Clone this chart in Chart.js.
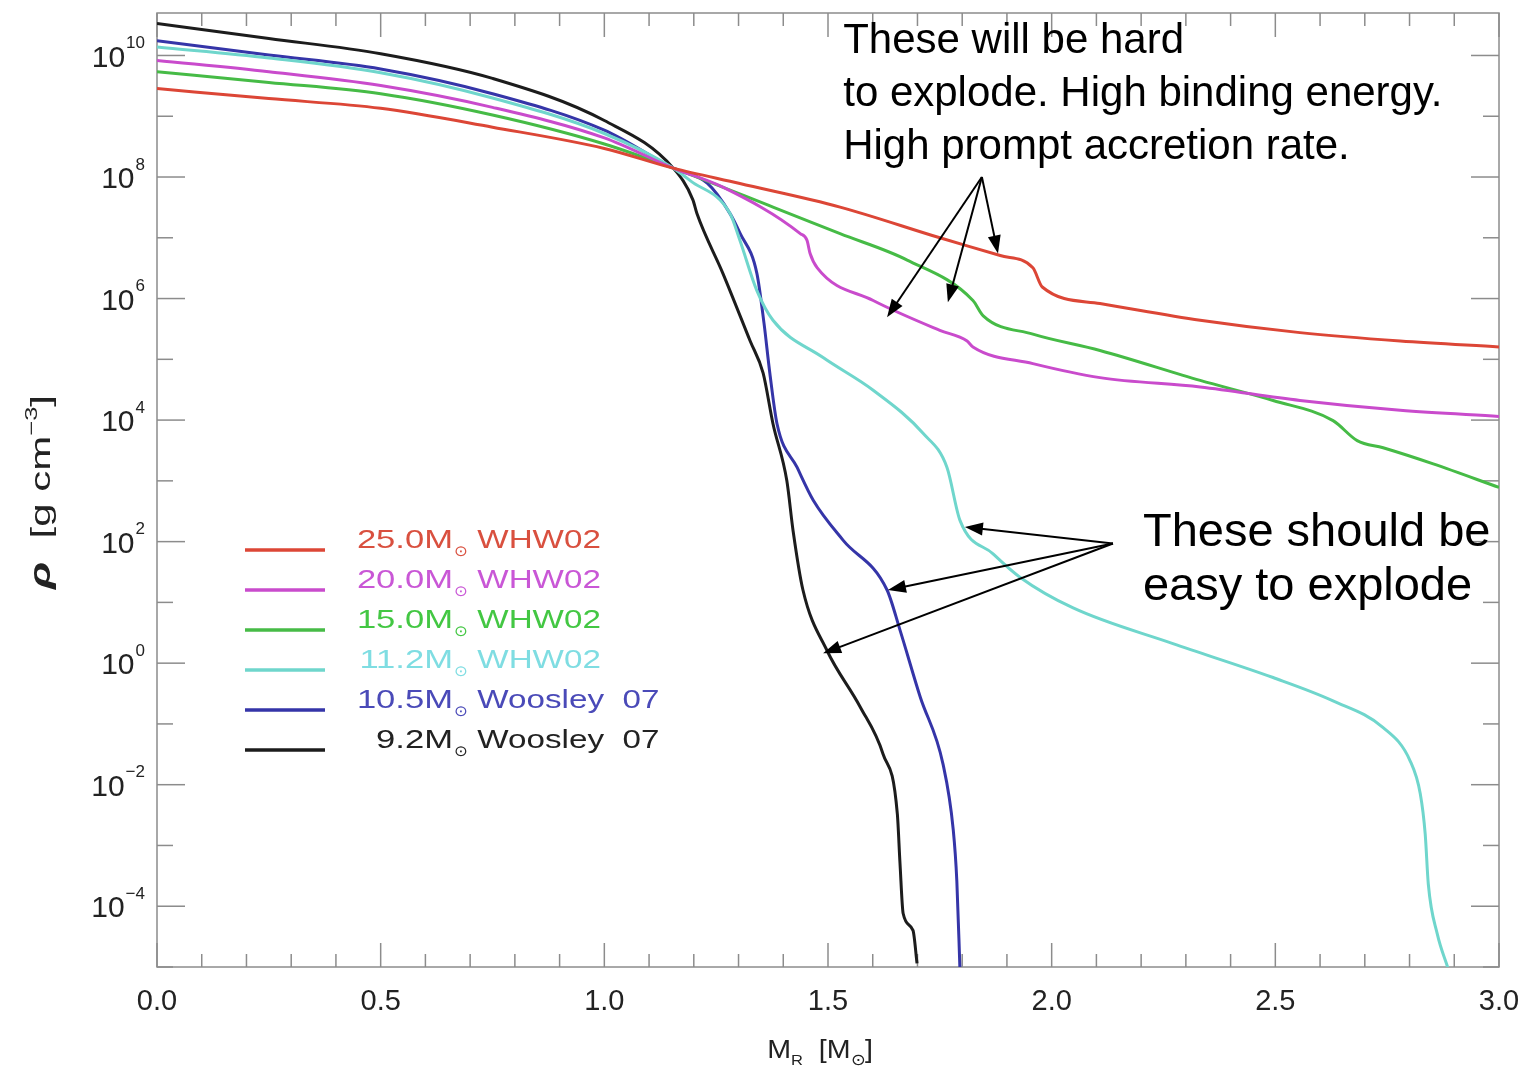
<!DOCTYPE html>
<html>
<head>
<meta charset="utf-8">
<script src="https://cdn.jsdelivr.net/npm/chart.js@4.4.0/dist/chart.umd.min.js"></script>
<style>
  html, body { margin: 0; padding: 0; background: #fff; }
  #wrap { width: 1530px; height: 1069px; }
</style>
</head>
<body>
<div id="wrap"><canvas id="rhoChart"></canvas></div>
<script>
// enclosed mass M_R [M_sun] and density rho [g cm^-3]
let m25 = [0, 0.25, 0.5, 0.75, 1.0, 1.154, 1.303, 1.527, 1.750, 1.885, 1.958, 1.979, 2.108, 2.332, 2.555, 2.779, 3.0];
let rho25 = [2.85e9, 1.95e9, 1.35e9, 6.6e8, 2.95e8, 1.4e8, 7.8e7, 3.2e7, 1.0e7, 5.1e6, 3.2e6, 1.55e6, 8.3e5, 4.4e5, 2.75e5, 2.0e5, 1.6e5];

let m20 = [0, 0.25, 0.5, 0.75, 1.0, 1.154, 1.265, 1.438, 1.453, 1.460, 1.476, 1.601, 1.750, 1.811, 1.824, 1.958, 2.108, 2.332, 2.555, 2.779, 3.0];
let rho20 = [8.3e9, 5.4e9, 3.2e9, 1.4e9, 4.4e8, 1.4e8, 6.8e7, 1.17e7, 9.1e6, 5.5e6, 3.2e6, 9.3e5, 3.0e5, 2.0e5, 1.6e5, 8.5e4, 5.0e4, 3.5e4, 2.1e4, 1.45e4, 1.15e4];

let m15 = [0, 0.25, 0.5, 0.75, 1.0, 1.154, 1.377, 1.527, 1.677, 1.824, 1.847, 1.958, 2.108, 2.332, 2.495, 2.629, 2.683, 2.741, 2.853, 3.0];
let rho15 = [5.4e9, 3.6e9, 2.35e9, 1.05e9, 3.5e8, 1.4e8, 3.2e7, 1.17e7, 4.3e6, 9.3e5, 5.2e5, 2.6e5, 1.4e5, 4.5e4, 2.1e4, 9.8e3, 4.6e3, 3.5e3, 1.9e3, 780];

let m112 = [0, 0.25, 0.5, 0.75, 1.0, 1.154, 1.192, 1.281, 1.303, 1.341, 1.377, 1.489, 1.601, 1.713, 1.766, 1.795, 1.869, 1.929, 2.048, 2.271, 2.495, 2.629, 2.741, 2.801, 2.824, 2.835, 2.842, 2.862, 2.886];
let rho112 = [1.38e10, 9.1e9, 5.2e9, 2.0e9, 5.2e8, 1.4e8, 8.7e7, 2.5e7, 9.1e6, 1.35e6, 4.4e5, 1.07e5, 3.1e4, 6.0e3, 1.66e3, 224, 63, 26, 8.1, 2.1, 0.58, 0.24, 0.087, 0.025, 7.1e-3, 1.55e-3, 2.3e-4, 3.5e-5, 9.5e-6];

let m105 = [0, 0.25, 0.5, 0.75, 1.0, 1.154, 1.230, 1.281, 1.303, 1.341, 1.357, 1.370, 1.386, 1.431, 1.467, 1.534, 1.632, 1.661, 1.706, 1.757, 1.780, 1.788, 1.795];
let rho105 = [1.74e10, 1.02e10, 6.0e9, 2.35e9, 5.9e8, 1.4e8, 7.9e7, 2.5e7, 1.2e7, 2.6e6, 3.9e5, 5.9e4, 8.7e3, 1.66e3, 480, 105, 16, 3.5, 0.28, 0.022, 1.8e-3, 2.6e-4, 9.0e-6];

let m92 = [0, 0.25, 0.5, 0.75, 1.0, 1.154, 1.198, 1.207, 1.265, 1.326, 1.355, 1.377, 1.408, 1.422, 1.444, 1.498, 1.572, 1.623, 1.655, 1.661, 1.668, 1.690, 1.699];
let rho92 = [3.35e10, 1.9e10, 1.07e10, 4.2e9, 8.5e8, 1.4e8, 4.2e7, 2.5e7, 2.6e6, 2.0e5, 5.9e4, 8.7e3, 1.0e3, 150, 16, 1.6, 0.19, 0.032, 3.3e-3, 5e-4, 7.6e-5, 4e-5, 1.15e-5];

let legendMass = ['25.0', '20.0', '15.0', '11.2', '10.5', '9.2'];
let legendSource = ['WHW02', 'WHW02', 'WHW02', 'WHW02', 'Woosley  07', 'Woosley  07'];
let lineColors = ['#dc4636', '#c94bcc', '#46bb46', '#6fd6cc', '#3535a8', '#1c1c1c'];
let textColors = ['#d9503f', '#c957d6', '#43c743', '#7fdde2', '#4a4ab8', '#222222'];

let xTickLabels = ['0.0', '0.5', '1.0', '1.5', '2.0', '2.5', '3.0'];
let yDecades = [-5, -4, -3, -2, -1, 0, 1, 2, 3, 4, 5, 6, 7, 8, 9, 10];

// annotations (data coordinates, text at its baseline)
let hardText = ['These will be hard', 'to explode. High binding energy.', 'High prompt accretion rate.'];
let hardTextPos = [[1.534, 1.09e10], [1.534, 1.46e9], [1.534, 1.95e8]];
let hardFrom = [1.844, 1.0e8];
let hardTips = [[1.632, 4.9e5], [1.768, 8.7e5], [1.880, 5.5e6]];
let easyText = ['These should be', 'easy to explode'];
let easyTextPos = [[2.204, 84], [2.204, 10.8]];
let easyFrom = [2.137, 93];
let easyTips = [[1.806, 174], [1.634, 16], [1.489, 1.45]];

function pts(xs, ys) {
    let out = [];
    for (let i = 0; i < xs.length; i++) out.push({x: xs[i], y: ys[i]});
    return out;
}

let series = [pts(m25, rho25), pts(m20, rho20), pts(m15, rho15), pts(m112, rho112), pts(m105, rho105), pts(m92, rho92)];

let datasets = [];
for (let i = 0; i < series.length; i++) {
    datasets.push({
        label: legendMass[i] + 'M⊙ ' + legendSource[i],
        data: series[i],
        borderColor: lineColors[i],
        backgroundColor: lineColors[i],
        borderWidth: 3,
        pointRadius: 0,
        showLine: true,
        cubicInterpolationMode: 'monotone'
    });
}

const AXIS_GREY = '#8c8c8c';
const LABEL_COL = '#222222';
const FONT = '"Liberation Sans", Arial, Helvetica, sans-serif';

function seg(ctx, x1, y1, x2, y2) {
    ctx.beginPath();
    ctx.moveTo(x1, y1);
    ctx.lineTo(x2, y2);
    ctx.stroke();
}

// text stretched horizontally (the IDL vector font is wide)
function wideText(ctx, s, x, y, font, sx, align) {
    ctx.save();
    ctx.font = font;
    ctx.textAlign = align || 'left';
    ctx.translate(x, y);
    ctx.scale(sx, 1);
    ctx.fillText(s, 0, 0);
    let w = ctx.measureText(s).width * sx;
    ctx.restore();
    return w;
}

// box + inward tick marks, IDL style
const framePlugin = {
    id: 'frame',
    beforeDatasetsDraw(chart) {
        const {ctx, chartArea: a, scales: {x, y}} = chart;
        ctx.save();
        ctx.strokeStyle = AXIS_GREY;
        ctx.lineWidth = 1.5;
        ctx.strokeRect(a.left, a.top, a.right - a.left, a.bottom - a.top);
        for (let i = 0; i <= 30; i++) {
            let px = x.getPixelForValue(i / 10);
            let len = i % 5 == 0 ? 24 : 13;
            seg(ctx, px, a.bottom, px, a.bottom - len);
            seg(ctx, px, a.top, px, a.top + len);
        }
        y.ticks.forEach(t => {
            let py = y.getPixelForValue(t.value);
            let k = Math.round(Math.log10(t.value));
            let len = k % 2 == 0 ? 28 : 16;
            seg(ctx, a.left, py, a.left + len, py);
            seg(ctx, a.right, py, a.right - len, py);
        });
        ctx.restore();
    },
    afterDraw(chart) {
        const {ctx, chartArea: a, scales: {x, y}} = chart;
        ctx.save();
        // y tick labels 10^k
        ctx.fillStyle = LABEL_COL;
        ctx.textBaseline = 'middle';
        y.ticks.forEach(t => {
            let k = Math.round(Math.log10(t.value));
            if (k % 2 != 0) return;
            let py = y.getPixelForValue(t.value);
            let exp = k < 0 ? '\u2212' + (-k) : String(k);
            ctx.font = '17px ' + FONT;
            let ew = ctx.measureText(exp).width;
            let right = a.left - 12;
            ctx.textAlign = 'left';
            ctx.fillText(exp, right - ew, py - 12);
            ctx.font = '30px ' + FONT;
            ctx.textAlign = 'right';
            ctx.fillText('10', right - ew - 1, py + 3);
        });

        // y title: rho [g cm^-3]
        ctx.save();
        ctx.translate(42, 492);
        ctx.rotate(-Math.PI / 2);
        ctx.textBaseline = 'middle';
        let ysx = 1.5;
        let parts = [['bold italic 30px ' + FONT, 'ρ', 0], ['28px ' + FONT, '  [g cm', 0], ['17px ' + FONT, '\u22123', -10], ['28px ' + FONT, ']', 0]];
        let total = 0;
        parts.forEach(p => { ctx.font = p[0]; total += ctx.measureText(p[1]).width * ysx; });
        let cx = -total / 2;
        parts.forEach(p => { cx += wideText(ctx, p[1], cx, p[2], p[0], ysx); });
        ctx.restore();

        // x title: M_R [M_sun]
        let xp = [['26px ' + FONT, 'M', 0], ['15px ' + FONT, 'R', 7], ['26px ' + FONT, '  [M', 0], ['16px ' + FONT, '⊙', 7], ['26px ' + FONT, ']', 0]];
        let xw = 0;
        xp.forEach(p => { ctx.font = p[0]; xw += ctx.measureText(p[1]).width * 1.1; });
        let xx = x.getPixelForValue(1.5) - xw / 2 - 8;
        ctx.textBaseline = 'alphabetic';
        xp.forEach(p => { xx += wideText(ctx, p[1], xx, 1058 + p[2], p[0], 1.1); });

        // legend inside the plot
        let lx = a.left + 88, ly = 550;
        let lsx = 1.33;
        chart.data.datasets.forEach((ds, i) => {
            let yy = ly + i * 40;
            ctx.strokeStyle = ds.borderColor;
            ctx.lineWidth = 3.5;
            seg(ctx, lx, yy, lx + 80, yy);
            ctx.fillStyle = textColors[i];
            let base = yy - 2;
            let tx = lx + 208;
            wideText(ctx, legendMass[i] + 'M', tx, base, '26px ' + FONT, lsx, 'right');
            tx += 1;
            tx += wideText(ctx, '⊙', tx, base + 8, '15px ' + FONT, 1.1, 'left');
            tx += 9;
            wideText(ctx, legendSource[i], tx, base, '26px ' + FONT, lsx * 0.96, 'left');
        });

        // annotations
        ctx.fillStyle = '#000';
        ctx.strokeStyle = '#000';
        ctx.textAlign = 'left';
        ctx.textBaseline = 'alphabetic';
        ctx.font = '42px ' + FONT;
        hardText.forEach((s, i) => ctx.fillText(s, x.getPixelForValue(hardTextPos[i][0]), y.getPixelForValue(hardTextPos[i][1])));
        ctx.font = '47px ' + FONT;
        easyText.forEach((s, i) => ctx.fillText(s, x.getPixelForValue(easyTextPos[i][0]), y.getPixelForValue(easyTextPos[i][1])));
        let arrows = (from, tips) => {
            let fx = x.getPixelForValue(from[0]), fy = y.getPixelForValue(from[1]);
            tips.forEach(t => {
                let tx = x.getPixelForValue(t[0]), ty = y.getPixelForValue(t[1]);
                let ang = Math.atan2(ty - fy, tx - fx);
                ctx.lineWidth = 2;
                seg(ctx, fx, fy, tx - 14 * Math.cos(ang), ty - 14 * Math.sin(ang));
                ctx.beginPath();
                ctx.moveTo(tx, ty);
                ctx.lineTo(tx - 18 * Math.cos(ang) + 6.5 * Math.sin(ang), ty - 18 * Math.sin(ang) - 6.5 * Math.cos(ang));
                ctx.lineTo(tx - 18 * Math.cos(ang) - 6.5 * Math.sin(ang), ty - 18 * Math.sin(ang) + 6.5 * Math.cos(ang));
                ctx.closePath();
                ctx.fill();
            });
        };
        arrows(hardFrom, hardTips);
        arrows(easyFrom, easyTips);
        ctx.restore();
    }
};

const ctx = document.getElementById('rhoChart');
new Chart(ctx, {
    type: 'scatter',
    data: { datasets: datasets },
    options: {
        responsive: true,
        maintainAspectRatio: false,
        animation: false,
        layout: { padding: { left: 0, right: 31, top: 13, bottom: 0 } },
        plugins: { legend: { display: false }, tooltip: { enabled: false } },
        scales: {
            x: {
                type: 'linear',
                min: 0,
                max: 3,
                grid: { display: false, drawTicks: false },
                border: { display: false },
                afterBuildTicks: (scale) => {
                    scale.ticks = xTickLabels.map(s => ({ value: parseFloat(s) }));
                },
                ticks: {
                    padding: 18,
                    color: LABEL_COL,
                    font: { family: FONT, size: 29 },
                    callback: (v) => Number(v).toFixed(1)
                },
                afterFit: (scale) => {
                    scale.height = 102;
                    scale.paddingLeft = 0;
                    scale.paddingRight = 0;
                }
            },
            y: {
                type: 'logarithmic',
                min: 1e-5,
                max: 5e10,
                grid: { display: false, drawTicks: false },
                border: { display: false },
                afterBuildTicks: (scale) => {
                    scale.ticks = yDecades.map(k => ({ value: Math.pow(10, k) }));
                },
                ticks: { display: false },
                afterFit: (scale) => {
                    scale.width = 157;
                    scale.paddingTop = 0;
                    scale.paddingBottom = 0;
                }
            }
        }
    },
    plugins: [framePlugin]
});
</script>
</body>
</html>
